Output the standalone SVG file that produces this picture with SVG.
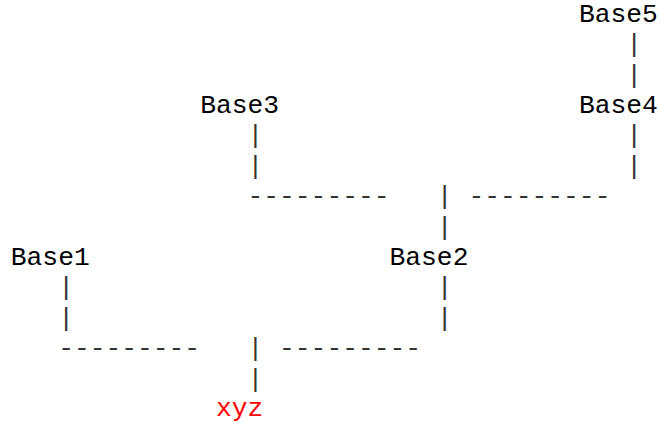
<svg xmlns="http://www.w3.org/2000/svg" width="660" height="423" viewBox="0 0 660 423">
<style>
text{font-family:"Liberation Mono","Courier New",monospace;font-size:26.3px;fill:#000}
.c{fill:#333}
.r{fill:#f00}
</style>
<rect width="660" height="423" fill="#fff"/>
<g id="connectors">
<text class="c" x="626.22" y="52.2">|</text>
<text class="c" x="626.22" y="82.6">|</text>
<text class="c" x="247.5" y="143.4">|</text>
<text class="c" x="626.22" y="143.4">|</text>
<text class="c" x="247.5" y="173.8">|</text>
<text class="c" x="626.22" y="173.8">|</text>
<text class="c" x="247.5" y="204.2">---------</text>
<text class="c" x="436.86" y="204.2">|</text>
<text class="c" x="468.42" y="204.2">---------</text>
<text class="c" x="436.86" y="234.6">|</text>
<text class="c" x="58.14" y="295.4">|</text>
<text class="c" x="436.86" y="295.4">|</text>
<text class="c" x="58.14" y="325.8">|</text>
<text class="c" x="436.86" y="325.8">|</text>
<text class="c" x="58.14" y="356.2">---------</text>
<text class="c" x="247.5" y="356.2">|</text>
<text class="c" x="279.06" y="356.2">---------</text>
<text class="c" x="247.5" y="386.6">|</text>
</g>
<g id="base5"><text x="578.88" y="21.8">Base5</text></g>
<g id="base4"><text x="578.88" y="113">Base4</text></g>
<g id="base3"><text x="200.16" y="113">Base3</text></g>
<g id="base2"><text x="389.52" y="265">Base2</text></g>
<g id="base1"><text x="10.8" y="265">Base1</text></g>
<g id="xyz"><text class="r" x="215.94" y="415.5">xyz</text></g>
</svg>
